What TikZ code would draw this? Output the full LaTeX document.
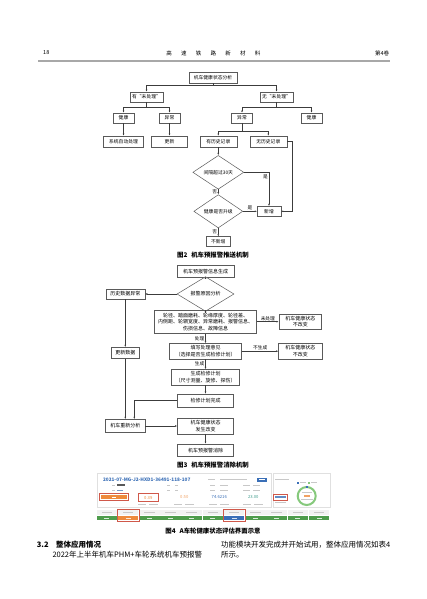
\documentclass[tikz,border=0pt]{standalone}
\usepackage{fontspec}
\setmainfont{Noto Sans CJK SC}
\usepackage{xcolor}
\usepackage{tikz}
\usetikzlibrary{shapes.geometric,arrows.meta}

\definecolor{linegray}{HTML}{3C3C3C}
\definecolor{boxgray}{HTML}{5A5A5A}
\definecolor{rulegray}{HTML}{A8A8A8}
\definecolor{txtgray}{HTML}{C8C8C8}
\definecolor{panelgray}{HTML}{E0E0E0}
\definecolor{uiblue}{HTML}{3A6FB7}
\definecolor{uiorange}{HTML}{EE8A3C}
\definecolor{uired}{HTML}{D0584A}
\definecolor{uigreen}{HTML}{4E9C4C}
\definecolor{ringgreen}{HTML}{86C97C}
\definecolor{uiteal}{HTML}{3F9C8C}
\definecolor{celltop}{HTML}{F2F2F2}

\tikzset{
  box/.style={draw=boxgray, line width=0.5pt, fill=white, inner sep=0pt, align=center},
  flowa/.style={box, font=\fontsize{4.8}{6}\selectfont, minimum height=10pt},
  flowb/.style={box, font=\fontsize{5}{6.4}\selectfont, minimum height=12pt},
  dia/.style={draw=boxgray, line width=0.5pt, fill=white, diamond, inner sep=0pt},
  link/.style={draw=linegray, line width=0.5pt, ->},
  lbl/.style={font=\fontsize{4.7}{5}\selectfont, inner sep=1pt},
  capt/.style={font=\bfseries\fontsize{6.4}{7}\selectfont, inner sep=0pt},
  hdr/.style={font=\fontsize{5.5}{6}\selectfont, inner sep=0pt},
  body/.style={font=\fontsize{7.5}{9}\selectfont, inner sep=0pt, anchor=west},
  metric/.style={font=\fontsize{4.2}{5}\selectfont, inner sep=0pt},
  ghost/.style={fill=txtgray, draw=none},
}

\begin{document}
\begin{tikzpicture}[x=1pt, y=-1pt, >={Latex[length=2.2pt,width=1.8pt]}]
    \useasboundingbox (0, 0) rectangle (427, 599);
    \fill [white] (0, 0) rectangle (427, 599);

    \node [hdr, anchor=west] (pg) at (43, 53) {18};
    \foreach \c [count=\i] in {高,速,铁,路,新,材,料}
        \node [hdr] (j\i) at (169+14.75*\i-14.75, 53) {\c};
    \node [hdr, anchor=east] (vol) at (389.3, 53) {第4卷};
    \draw [rulegray, line width=1.4pt] (38, 61) -- (389.5, 61);

    \node [flowa, minimum width=48pt, minimum height=11pt] (s0) at (213, 77.5) {机车健康状态分析};
    \node [flowa, minimum width=33pt] (h1) at (146.5, 97) {有“未处理”};
    \node [flowa, minimum width=33pt] (h2) at (276.5, 97) {无“未处理”};
    \node [flowa, minimum width=21pt] (a1) at (123.5, 118) {健康};
    \node [flowa, minimum width=21pt] (a2) at (169.5, 118) {异常};
    \node [flowa, minimum width=21pt] (a3) at (242, 118) {异常};
    \node [flowa, minimum width=21pt] (a4) at (311.5, 118) {健康};
    \node [flowa, minimum width=40pt, minimum height=11pt] (b1) at (123.5, 141.5) {系统自动处理};
    \node [flowa, minimum width=36pt, minimum height=11pt] (b2) at (169.5, 141.5) {更新};
    \node [flowa, minimum width=37pt, minimum height=11pt] (c1) at (218.3, 141.5) {有历史记录};
    \node [flowa, minimum width=37pt, minimum height=11pt] (c2) at (268.3, 141.5) {无历史记录};
    \node [dia, font=\fontsize{4.8}{6}\selectfont, minimum width=51pt, minimum height=20pt] (d1) at (218.3, 172.3) {间隔超过30天};
    \node [dia, font=\fontsize{4.8}{6}\selectfont, minimum width=49pt, minimum height=19pt] (d2) at (218.3, 211.3) {健康是否升级};
    \node [flowa, minimum width=23.5pt] (e1) at (269, 211.3) {新增};
    \node [flowa, minimum width=24pt] (e2) at (218.3, 241.7) {不新增};

    \draw [link] (s0.south) -- ++(0, 2) -| (h1.north);
    \draw [link] (s0.south) -- ++(0, 2) -| (h2.north);
    \draw [link] (h1.south) -- ++(0, 5) -| (a1.north);
    \draw [link] (h1.south) -- ++(0, 5) -| (a2.north);
    \draw [link] (h2.south) -- ++(0, 5) -| (a3.north);
    \draw [link] (h2.south) -- ++(0, 5) -| (a4.north);
    \draw [link] (a1) -- (b1);
    \draw [link] (a2) -- (b2);
    \draw [link] (a3.south) -- ++(0, 7.7) -| (c1.north);
    \draw [link] (a3.south) -- ++(0, 7.7) -| (c2.north);
    \draw [link] (c1) -- (d1);
    \draw [link] (d1) -- node [lbl, left] {否} (d2);
    \draw [link] (d1.east) -| node [lbl, pos=0.57, left] {是} (e1.north);
    \draw [link] (d2) -- node [lbl, above] {是} (e1);
    \draw [link] (d2) -- node [lbl, left] {否} (e2);
    \draw [link] (c2.east) -- ++(5, 0) |- (e1.east);

    \node [capt] (cap2) at (213, 255) {图2\hspace{0.6em}机车预报警推送机制};

    \node [flowb, minimum width=57pt] (f0) at (205.5, 271.5) {机车预报警信息生成};
    \node [dia, font=\fontsize{5}{6}\selectfont, minimum width=57pt, minimum height=15.6pt] (f1) at (205.5, 294) {报警原因分析};
    \node [flowb, minimum width=39pt, minimum height=10pt] (g1) at (125.3, 294) {历史数据异常};
    \node [flowb, minimum width=102.4pt, minimum height=23.3pt] (f2) at (205.5, 321.7) {轮径、踏面磨耗、轮缘厚度、轮径差、\\内侧距、轮辋宽度、异常磨耗、报警信息、\\伤损信息、故障信息};
    \node [flowb, minimum width=42.7pt, minimum height=15pt] (k1) at (300.3, 321.7) {机车健康状态\\不改变};
    \node [flowb, minimum width=72.4pt, minimum height=15.7pt] (f3) at (205.5, 351.2) {填写处理意见\\（选择是否生成检修计划）};
    \node [flowb, minimum width=43.4pt, minimum height=15.7pt] (k2) at (300.3, 351.2) {机车健康状态\\不改变};
    \node [flowb, minimum width=68.3pt, minimum height=15.7pt] (f4) at (205.5, 377.2) {生成检修计划\\（尺寸测量、旋修、探伤）};
    \node [flowb, minimum width=56pt, minimum height=13.3pt] (f5) at (205.5, 400.7) {检修计划完成};
    \node [flowb, minimum width=28.6pt, minimum height=11pt] (g2) at (125.3, 352.8) {更新数据};
    \node [flowb, minimum width=39.3pt, minimum height=13.3pt] (g3) at (125.3, 426) {机车重新分析};
    \node [flowb, minimum width=56pt, minimum height=15.7pt] (f6) at (205.5, 426) {机车健康状态\\发生改变};
    \node [flowb, minimum width=56pt, minimum height=12.7pt] (f7) at (205.5, 450.3) {机车预报警消除};

    \draw [link] (f0) -- (f1);
    \draw [link] (f1) -- (g1);
    \draw [link] (f1) -- (f2);
    \draw [link] (f2) -- node [lbl, above] {未处理} (k1);
    \draw [link] (f2) -- node [lbl, left] {处理} (f3);
    \draw [link] (f3) -- node [lbl, above] {不生成} (k2);
    \draw [link] (f3) -- node [lbl, left] {生成} (f4);
    \draw [link] (f4) -- (f5);
    \draw [link] (g1) -- (g2);
    \draw [link] (g2) -- (g3);
    \draw [link] (f5.west) -| ([xshift=9pt]g3.north);
    \draw [link] (g3) -- (f6);
    \draw [link] (f6) -- (f7);

    \node [capt] (cap3) at (213, 465) {图3\hspace{0.6em}机车预报警消除机制};

    \draw [panelgray, line width=0.4pt] (97, 473.5) rectangle (271.5, 507.5);
    \draw [panelgray, line width=0.4pt] (273, 473.5) rectangle (330, 507.5);
    \node [font=\bfseries\fontsize{4.7}{5}\selectfont, text=uiblue, inner sep=0pt] (code) at (146.7, 480) {2021-07-MG-J2-HXD1-36491-118-107};
    \fill [ghost] (208.3, 479) rectangle (215, 480);
    \fill [ghost] (220, 479) rectangle (246.7, 480);
    \fill [uiblue] (256.7, 477.7) rectangle (266.7, 481.7);
    \fill [white] (258.5, 479.3) rectangle (265, 480.1);
    \foreach \a/\b in {111.7/115, 166.7/170, 175/178, 210/215, 220/228.3, 243.3/250, 253.3/260} {
        \fill [ghost] (\a, 484.5) rectangle (\b, 485.5);
        \fill [ghost] (\a, 489.5) rectangle (\b, 490.5);
    }
    \fill [black!65] (116.7, 484) rectangle (125, 486);
    \fill [uiblue!70] (116.7, 489.5) rectangle (123.3, 490.5);

    \draw [uired, line width=0.6pt] (99.3, 493.3) rectangle (128.3, 500.7);
    \fill [uiorange] (100.8, 494.8) rectangle (126.8, 499.2);
    \fill [white] (111.5, 496.6) rectangle (116, 497.4);
    \draw [uired, line width=0.6pt] (138.3, 493.3) rectangle (158.3, 501.7);
    \node [metric, text=uiorange] (m1) at (148.3, 497.5) {0.39};
    \node [metric, text=uiorange!80] (m2) at (184.3, 497.3) {0.50};
    \node [metric, text=uiblue] (m3) at (219.3, 497.3) {74.6216};
    \node [metric, text=uiteal] (m4) at (253.3, 497.3) {23.00};
    \foreach \x in {148.3, 184.3, 219.3, 253.3} {
        \fill [ghost] (\x-10, 503.6) rectangle (\x-2, 504.5);
        \fill [ghost] (\x+1, 503.6) rectangle (\x+10, 504.5);
    }

    \fill [ghost] (275, 478.8) rectangle (289, 479.8);
    \fill [uiblue] (296.5, 482) rectangle (298.5, 483.5);
    \fill [ghost] (299.5, 482.3) rectangle (305.5, 483.2);
    \fill [ringgreen] (307.5, 482) rectangle (309.5, 483.5);
    \fill [ghost] (310.5, 482.3) rectangle (316.5, 483.2);
    \draw [ringgreen, line width=2pt] (306.7, 496) circle (9);
    \draw [uiblue, line width=2pt] (306.7, 496) ++(264:9) arc (264:276:9);
    \fill [ghost] (302, 492.3) rectangle (311.5, 493.2);
    \fill [uiorange!80] (303.7, 495.2) rectangle (309.7, 496.9);
    \fill [ghost] (301, 498.5) rectangle (312.5, 499.3);
    \draw [uired, line width=0.6pt] (273.3, 494.3) rectangle (287.3, 500.7);
    \fill [uiblue!80] (275, 496.3) rectangle (285.5, 497.9);
    \fill [ghost] (274.5, 502) rectangle (286, 502.9);

    \foreach \c [count=\i from 0] in {uigreen,uiorange,uigreen,uigreen,uigreen,uigreen,uiblue,uigreen,uigreen,uigreen,uigreen} {
        \fill [celltop] (96.5+21.23*\i, 509.5) rectangle (117.1+21.23*\i, 515.2);
        \fill [ghost] (101.5+21.23*\i, 511.9) rectangle (112.1+21.23*\i, 512.8);
        \fill [\c] (96.5+21.23*\i, 515.6) rectangle (117.1+21.23*\i, 520.2);
        \fill [white, opacity=0.8] (104.3+21.23*\i, 517.5) rectangle (109.3+21.23*\i, 518.3);
    }
    \draw [uired, line width=0.6pt] (117.2, 509) rectangle (139.2, 521);
    \draw [uired, line width=0.6pt] (223.1, 509) rectangle (245.4, 521);

    \node [capt] (cap4) at (213, 531) {图4\hspace{0.6em}A车轮健康状态评估界面示意};

    \node [body, font=\bfseries\fontsize{7.5}{9}\selectfont] (sec) at (36.7, 544.3) {3.2\hspace{1em}整体应用情况};
    \node [body] (p1) at (52.3, 555) {2022年上半年机车PHM+车轮系统机车预报警};
    \node [body] (p2) at (221, 544.3) {功能模块开发完成并开始试用，整体应用情况如表4};
    \node [body] (p3) at (221, 555) {所示。};
\end{tikzpicture}
\end{document}
